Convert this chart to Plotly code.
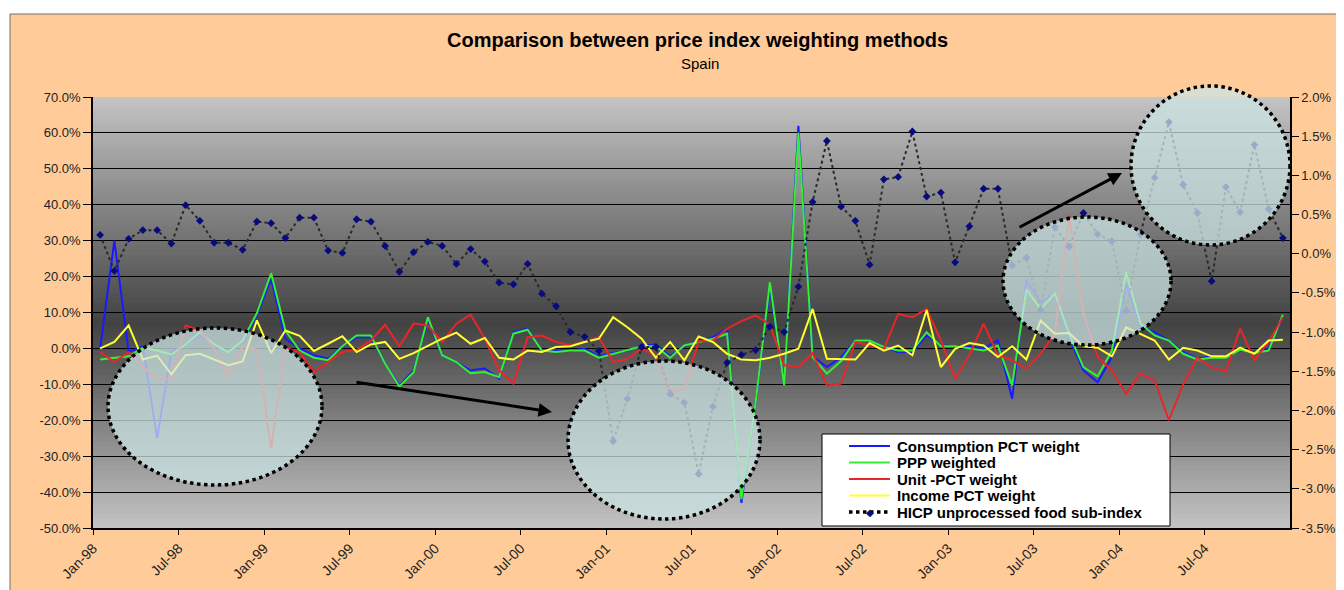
import plotly.graph_objects as go

# ---------------- data ----------------
month_names = ["Jan", "Feb", "Mar", "Apr", "May", "Jun", "Jul", "Aug", "Sep", "Oct", "Nov", "Dec"]
months = [f"{m}-{y % 100:02d}" for y in range(1998, 2005) for m in month_names]

tick_labels = ["Jan-98", "Jul-98", "Jan-99", "Jul-99", "Jan-00", "Jul-00", "Jan-01",
               "Jul-01", "Jan-02", "Jul-02", "Jan-03", "Jul-03", "Jan-04", "Jul-04"]

consumption_pct = [
    -0.2, 30, -1, 0.5, -25, -1, 1, 3.9, 0.8, -1.1,
    1.8, 9.2, 19.4, 2.7, 0, -1.9, -2.9, 0.6, 3.1, 3.1,
    -4.3, -10.3, -6.1, 7.8, -1.9, -3.8, -6.1, -5.6, -8.4, 4.5,
    5.5, -0.6, -0.6, -0.6, -0.1, -2.2, -1.3, -0.6, 0.8, 1.1,
    -2.2, 0.6, 2.2, 3.1, 5.5, -43, -15, 17, -10, 62,
    -2.2, -5.2, -2.5, 2.2, 2.2, 0.4, -1, -1, 3.6, 0.8,
    0.6, 0.6, 0, 2.2, -14, 19, 12.8, 15, 3, -6.1,
    -9.4, -2.4, 18, 5.9, 4.5, 2.2, -1, -2.9, -2.2, -2.4,
    -0.6, -1, -0.1, 8.7]

ppp_weighted = [
    -3.1, -2.6, -2.2, 0.2, -0.6, -1.7, 1.1, 4.5, 1.1, -1.1,
    2.2, 9.8, 20.9, 5, -0.6, -2.6, -3.3, 0.6, 3.6, 3.6,
    -4.3, -10.6, -6.6, 8.7, -1.9, -3.8, -6.9, -6.6, -8, 4.1,
    5.2, -0.6, -1, -0.6, -0.6, -2.6, -1.5, -0.6, 0.6, 0.6,
    -2.6, 0.8, 1.8, 2.7, 4.1, -42, -15, 18.4, -10.3, 60,
    -2.4, -7, -3.5, 2.2, 2.2, 0.4, -0.6, -0.6, 4.5, 0.6,
    0.6, 0, -0.6, 0.8, -10.3, 16.4, 11, 15.3, 4, -5.2,
    -7.8, -0.6, 21.2, 6.9, 3.6, 2.2, -1.5, -3.1, -2.6, -2.6,
    -0.4, -1.3, -0.6, 9.4]

unit_pct = [
    -1, -3.8, -1, -5.2, -8.5, -8.5, 6.4, 5, 0, -7.8,
    0.6, -0.4, -27.8, 0.2, -1, -6.6, -3.8, -1, -0.4, 2.2,
    6.6, 0.6, 6.9, 6.4, 1.8, 6.9, 9.4, 2.7, -6.1, -9.8,
    3.1, 3.6, 1.8, 0.8, 1.8, 3.1, -3.8, -2.9, -0.1, -1.9,
    -12, -11.3, 2, 2.2, 5.5, 7.6, 9.2, 6.6, -4.7, -5.2,
    -1.3, -10.3, -9.8, 1.8, 0.8, -0.1, 9.6, 8.7, 11, 2.2,
    -8.4, -1.9, 6.9, -1.9, -3.3, -5.6, -1.5, 4.1, 37, 9.7,
    -2.4, -6.1, -12.6, -7, -8.9, -20, -10, -2.6, -5.2, -6.4,
    5.5, -3.3, 1.8, 8.7]

income_pct = [
    0, 1.8, 6.4, -3.1, -2, -7.2, -1.9, -1.5, -3.1, -4.7,
    -3.6, 7.8, -1.3, 5, 3.5, -0.7, 1.3, 3.4, -1, 1.1,
    1.8, -2.9, -1.3, 0.8, 2.7, 4.4, 1.3, 2.9, -2.6, -3.1,
    -0.6, -1, 0.4, 0.6, 1.8, 2.7, 8.7, 5.9, 2.7, -2.6,
    1.8, -3.3, 3.3, 1.8, -1.5, -3.1, -3.3, -2.6, -1.5, -0.1,
    11, -2.9, -2.9, -3.1, 1.5, -0.6, 0.8, -1.9, 10.7, -5.2,
    -0.1, 1.5, 0.8, -2.4, 0.6, -3.1, 7.8, 4.1, 4.3, 0.6,
    0.2, -2.2, 5.9, 4.1, 2.2, -3.1, 0.2, -0.6, -2.2, -2.2,
    0.2, -1.5, 2.2, 2.4]

hicp_unprocessed_food = [
    0.24, -0.22, 0.19, 0.30, 0.30, 0.13, 0.62, 0.42, 0.14, 0.14,
    0.05, 0.41, 0.39, 0.20, 0.46, 0.46, 0.04, 0.01, 0.44, 0.41,
    0.10, -0.23, 0.02, 0.15, 0.10, -0.13, 0.06, -0.10, -0.37, -0.39,
    -0.13, -0.51, -0.67, -1.00, -1.06, -1.24, -2.39, -1.85, -1.19, -1.19,
    -1.79, -1.90, -2.81, -1.95, -1.39, -1.29, -1.23, -0.93, -1.00, -0.42,
    0.66, 1.44, 0.60, 0.42, -0.14, 0.95, 0.98, 1.56, 0.73, 0.78,
    -0.11, 0.35, 0.83, 0.83, -0.15, -0.05, -0.72, 0.34, 0.09, 0.52,
    0.25, 0.16, -0.73, 0.25, 0.97, 1.68, 0.88, 0.52, -0.35, 0.85,
    0.53, 1.39, 0.57, 0.20]

left_ticks = [-50, -40, -30, -20, -10, 0, 10, 20, 30, 40, 50, 60, 70]
right_ticks = [-3.5, -3.0, -2.5, -2.0, -1.5, -1.0, -0.5, 0.0, 0.5, 1.0, 1.5, 2.0]

# ---------------- layout helpers (page pixel coordinates) ----------------
PAGE_W, PAGE_H = 1344, 590
OFF = 8                      # default body margin of the html page
W, H = PAGE_W - OFF, PAGE_H - OFF
L, R, T, B = 93, 1290, 97, 528   # plot area on the page


def px(x):
    return (x - L) / (R - L)


def py(y):
    return (B - y) / (B - T)


FONT = "Arial, Liberation Sans, sans-serif"
x_idx = list(range(len(months)))
tickvals_x = [months.index(t) - 0.5 for t in tick_labels]

fig = go.Figure()

series = [
    ("Consumption PCT weight", consumption_pct, "#1a1aff"),
    ("PPP weighted", ppp_weighted, "#33f033"),
    ("Unit -PCT weight", unit_pct, "#e8262a"),
    ("Income PCT weight", income_pct, "#ffff33"),
]
for name, vals, col in series:
    fig.add_trace(go.Scatter(x=x_idx, y=vals, mode="lines", name=name,
                             line=dict(color=col, width=2), yaxis="y"))

HICP_NAME = "HICP unprocessed food sub-index"
fig.add_trace(go.Scatter(x=x_idx, y=hicp_unprocessed_food, mode="lines+markers",
                         name=HICP_NAME, yaxis="y2",
                         line=dict(color="#2a2a2a", width=2, dash="dot"),
                         marker=dict(symbol="diamond", size=6, color="#0a0a80")))

shapes = []
# peach chart area
shapes.append(dict(type="rect", xref="paper", yref="paper", layer="below",
                   x0=px(10), x1=px(PAGE_W + 5), y0=py(14), y1=py(PAGE_H + 5),
                   fillcolor="#ffcc99", line=dict(color="#6e6e6e", width=1)))

# gradient plot background (light edges, dark centre), drawn below the grid lines
N = 90
span = left_ticks[-1] - left_ticks[0]
centre = 7.0
for k in range(N):
    y0 = left_ticks[0] + span * k / N
    y1 = y0 + span / N
    yc = (y0 + y1) / 2
    half = (left_ticks[-1] - centre) if yc > centre else (centre - left_ticks[0])
    t = min(1.0, abs(yc - centre) / half)
    g = int(round(66 + (196 - 66) * t))
    shapes.append(dict(type="rect", xref="x", yref="y", layer="below",
                       x0=-0.5, x1=len(months) - 0.5, y0=y0, y1=y1 + span / N,
                       fillcolor=f"rgb({g},{g},{g})", line=dict(width=0)))

# dotted highlight ellipses
for (x0, x1, y0, y1) in [(108, 322, 328, 485), (568, 760, 361, 519),
                         (1003, 1171, 217, 345), (1131, 1290, 86, 245)]:
    shapes.append(dict(type="circle", xref="paper", yref="paper", layer="above",
                       x0=px(x0), x1=px(x1), y0=py(y1), y1=py(y0),
                       fillcolor="rgba(205,228,228,0.74)",
                       line=dict(color="black", width=3.5, dash="dot")))

# legend box
shapes.append(dict(type="rect", xref="paper", yref="paper", layer="above",
                   x0=px(822), x1=px(1170), y0=py(526), y1=py(434),
                   fillcolor="white", line=dict(color="black", width=1)))

annotations = [
    dict(text="<b>Comparison between price index weighting methods</b>", x=px(697), y=py(40),
         xref="paper", yref="paper", showarrow=False, xanchor="center", yanchor="middle",
         font=dict(family=FONT, size=20, color="black")),
    dict(text="Spain", x=px(700), y=py(63), xref="paper", yref="paper", showarrow=False,
         xanchor="center", yanchor="middle", font=dict(family=FONT, size=15, color="black")),
    dict(text="", x=px(552), y=py(412), xref="paper", yref="paper", showarrow=True,
         ax=355 - 552, ay=382 - 412, arrowhead=2, arrowsize=0.9, arrowwidth=3,
         arrowcolor="black"),
    dict(text="", x=px(1122), y=py(173), xref="paper", yref="paper", showarrow=True,
         ax=1018 - 1122, ay=228 - 173, arrowhead=2, arrowsize=0.9, arrowwidth=3,
         arrowcolor="black"),
]

# hand-drawn legend entries (tight Excel-like spacing)
legend_rows = [(name, col, "solid") for name, _, col in series] + [(HICP_NAME, "black", "dot")]
for i, (name, col, dash) in enumerate(legend_rows):
    yc = 446 + 16.5 * i
    shapes.append(dict(type="line", xref="paper", yref="paper", layer="above",
                       x0=px(849), x1=px(890), y0=py(yc), y1=py(yc),
                       line=dict(color=col, width=2 if dash == "solid" else 3.5, dash=dash)))
    annotations.append(dict(text=f"<b>{name}</b>", x=px(895), y=py(yc), xref="paper",
                            yref="paper", showarrow=False, xanchor="left", yanchor="middle",
                            font=dict(family=FONT, size=15, color="black")))
annotations.append(dict(text="◆", x=px(869.5), y=py(446 + 16.5 * 4), xref="paper",
                        yref="paper", showarrow=False, xanchor="center", yanchor="middle",
                        font=dict(family=FONT, size=10, color="#0a0a80")))

fig.update_layout(
    width=W, height=H,
    margin=dict(l=L - OFF, r=PAGE_W - R, t=T - OFF, b=PAGE_H - B, pad=0),
    paper_bgcolor="white", plot_bgcolor="#808080",
    font=dict(family=FONT, size=12, color="#222"),
    showlegend=False,
    xaxis=dict(range=[-0.5, len(months) - 0.5], tickvals=tickvals_x, ticktext=tick_labels,
               tickangle=-45, ticks="outside", ticklen=5, tickcolor="black",
               showline=True, linecolor="black", linewidth=1.5, showgrid=False,
               zeroline=False, automargin=False, tickfont=dict(size=14, color="#222")),
    yaxis=dict(range=[left_ticks[0], left_ticks[-1]], tickvals=left_ticks,
               ticktext=[f"{v:.1f}%" for v in left_ticks], ticks="outside", ticklen=8,
               tickcolor="black", showline=True, linecolor="black", linewidth=1.5,
               showgrid=True, gridcolor="black", gridwidth=1.4, zeroline=False,
               automargin=False, tickfont=dict(size=13, color="#222")),
    yaxis2=dict(range=[right_ticks[0], right_ticks[-1]], tickvals=right_ticks,
                ticktext=[f"{v:.1f}%" for v in right_ticks], overlaying="y", side="right",
                ticks="outside", ticklen=7, tickcolor="black", showline=True,
                linecolor="black", linewidth=1.5, showgrid=False, zeroline=False,
                automargin=False, tickfont=dict(size=13, color="#222")),
    shapes=shapes,
    annotations=annotations,
)

fig.write_html("out.html")
